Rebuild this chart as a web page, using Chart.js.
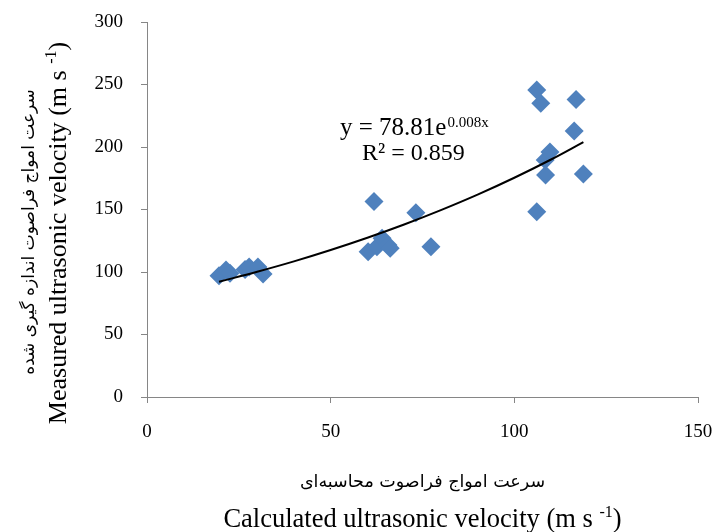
<!DOCTYPE html>
<html>
<head>
<meta charset="utf-8">
<script src="https://cdn.jsdelivr.net/npm/chart.js@4/dist/chart.umd.min.js"></script>
<style>
html,body{margin:0;padding:0;background:#fff;}
#wrap{width:714px;height:532px;position:relative;}
</style>
</head>
<body>
<div id="wrap"><canvas id="c" width="714" height="532"></canvas></div>
<script>
// Measured points (calculated velocity x, measured velocity y)
const calcVelocity = [19.6, 21.5, 22.6, 26.7, 27.8, 30.2, 31.6,
  60.2, 61.8, 62.6, 64.0, 65.6, 66.2, 73.2, 77.3,
  106.1, 106.1, 107.2, 108.4, 108.5, 109.7, 116.3, 116.8, 118.8];
const measVelocity = [97, 101.6, 99, 102, 104, 104, 98.4,
  116.3, 156.4, 120.2, 127, 121.6, 119, 147.5, 120.2,
  245.6, 148.2, 235, 189.6, 177.6, 196, 212.8, 238, 178.4];

// Exponential trendline (y = 78.81e^0.008x)
const trendX = [19.6, 30, 40, 50, 60, 70, 80, 90, 100, 110, 118.8];
const trendY = [92.2, 100.2, 108.5, 117.6, 127.4, 138.0, 149.5, 161.9, 175.4, 190.0, 203.9];

const xTicks = [0, 50, 100, 150];
const yTicks = [0, 50, 100, 150, 200, 250, 300];

const xTitleFa = "سرعت امواج فراصوت محاسبه\u200Cای";
const xTitleEn = "Calculated ultrasonic velocity (m s ";
const yTitleFa = "سرعت امواج فراصوت اندازه گیری شده";
const yTitleEn = "Measured ultrasonic velocity (m s ";
const eqMain = "y = 78.81e";
const eqExp = "0.008x";
const r2Text = "R² = 0.859";

const SERIF = "'Liberation Serif', 'Times New Roman', serif";
const FA = "'DejaVu Sans', sans-serif";

function drawParts(ctx, parts, cx, cy) {
  let w = 0;
  parts.forEach(p => { ctx.font = p.font; p.w = ctx.measureText(p.t).width; w += p.w; });
  let x = cx - w / 2;
  ctx.textAlign = 'left';
  ctx.textBaseline = 'alphabetic';
  parts.forEach(p => { ctx.font = p.font; ctx.fillText(p.t, x, cy + (p.dy || 0)); x += p.w; });
}

const textPlugin = {
  id: 'texts',
  afterDraw(chart) {
    const ctx = chart.ctx;
    const ca = chart.chartArea;
    const cx = (ca.left + ca.right) / 2;
    ctx.save();
    ctx.fillStyle = '#000';
    // X titles
    ctx.font = '17.5px ' + FA;
    ctx.textAlign = 'center';
    ctx.textBaseline = 'middle';
    ctx.fillText(xTitleFa, cx, 482);
    drawParts(ctx, [
      {t: xTitleEn, font: '26.5px ' + SERIF},
      {t: '-1', font: '16px ' + SERIF, dy: -10},
      {t: ')', font: '26.5px ' + SERIF}
    ], cx, 527);
    // Y titles
    ctx.save();
    ctx.translate(30, 232);
    ctx.rotate(-Math.PI / 2);
    ctx.font = '17px ' + FA;
    ctx.textAlign = 'center';
    ctx.textBaseline = 'middle';
    ctx.fillText(yTitleFa, 0, 0);
    ctx.restore();
    ctx.save();
    ctx.translate(66, 233);
    ctx.rotate(-Math.PI / 2);
    drawParts(ctx, [
      {t: yTitleEn, font: '26px ' + SERIF},
      {t: '-1', font: '16px ' + SERIF, dy: -10},
      {t: ')', font: '26px ' + SERIF}
    ], 0, 0);
    ctx.restore();
    // Equation
    ctx.textAlign = 'left';
    ctx.textBaseline = 'alphabetic';
    ctx.font = '25px ' + SERIF;
    ctx.fillText(eqMain, 340, 135);
    const w1 = ctx.measureText(eqMain).width;
    ctx.font = '15px ' + SERIF;
    ctx.fillText(eqExp, 340 + w1 + 1, 127);
    ctx.font = '24px ' + SERIF;
    ctx.fillText(r2Text, 362, 160);
    ctx.restore();
  }
};

const pts = calcVelocity.map((x, i) => ({x, y: measVelocity[i]}));
const trend = trendX.map((x, i) => ({x, y: trendY[i]}));

new Chart(document.getElementById('c'), {
  type: 'scatter',
  data: {
    datasets: [
      {
        type: 'line',
        data: trend,
        borderColor: '#000',
        borderWidth: 2,
        pointRadius: 0,
        tension: 0.4,
        fill: false,
        order: 0
      },
      {
        data: pts,
        pointStyle: 'rectRot',
        pointRadius: 9.5,
        backgroundColor: '#4F81BD',
        borderColor: '#4F81BD',
        borderWidth: 0,
        order: 1
      }
    ]
  },
  options: {
    responsive: false,
    animation: false,
    devicePixelRatio: 1,
    layout: {padding: {left: 0, top: 22, right: 16, bottom: 0}},
    plugins: {legend: {display: false}, tooltip: {enabled: false}},
    scales: {
      x: {
        type: 'linear',
        min: xTicks[0], max: xTicks[xTicks.length - 1],
        afterBuildTicks: s => { s.ticks = xTicks.map(v => ({value: v})); },
        afterFit: s => { s.height = 135; s.paddingLeft = 0; s.paddingRight = 0; },
        grid: {display: true, drawOnChartArea: false, drawTicks: true, tickLength: 6, color: '#868686', lineWidth: 1},
        border: {display: true, color: '#868686', width: 1},
        ticks: {color: '#000', font: {family: SERIF, size: 19}, padding: 18, maxRotation: 0}
      },
      y: {
        type: 'linear',
        min: yTicks[0], max: yTicks[yTicks.length - 1],
        afterBuildTicks: s => { s.ticks = yTicks.map(v => ({value: v})); },
        afterFit: s => { s.width = 147; s.paddingTop = 0; s.paddingBottom = 0; },
        grid: {display: true, drawOnChartArea: false, drawTicks: true, tickLength: 6, color: '#868686', lineWidth: 1},
        border: {display: true, color: '#868686', width: 1},
        ticks: {color: '#000', font: {family: SERIF, size: 19}, padding: 18}
      }
    }
  },
  plugins: [textPlugin]
});
</script>
</body>
</html>
